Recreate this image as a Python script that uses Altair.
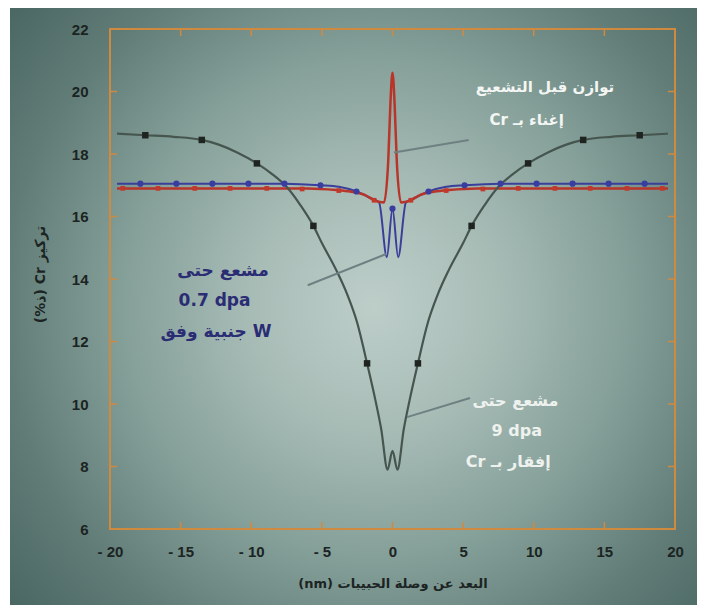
import altair as alt
import pandas as pd

# ---------------- data ----------------
# 9 dpa profile (grey line, black squares)
gray_x = [-19.5, -17.5, -15.5, -13.5, -12.3, -11.0, -9.6, -8.5, -7.5, -6.5, -5.6, -5.0, -4.0, -3.2, -2.5, -1.8, -1.2, -0.8, -0.35, 0.0,
          0.35, 0.8, 1.2, 1.8, 2.5, 3.2, 4.0, 5.0, 5.6, 6.5, 7.5, 8.5, 9.6, 11.0, 12.3, 13.5, 15.5, 17.5, 19.5]
gray_v = [18.65, 18.6, 18.55, 18.45, 18.3, 18.05, 17.7, 17.35, 16.95, 16.35, 15.7, 15.15, 14.3, 13.5, 12.6, 11.3, 10.1, 9.2, 7.9, 8.5,
          7.9, 9.2, 10.1, 11.3, 12.6, 13.5, 14.3, 15.15, 15.7, 16.35, 16.95, 17.35, 17.7, 18.05, 18.3, 18.45, 18.55, 18.6, 18.65]
gray_mx = [-17.5, -13.5, -9.6, -5.6, -1.8, 1.8, 5.6, 9.6, 13.5, 17.5]
gray_mv = [18.6, 18.45, 17.7, 15.7, 11.3, 11.3, 15.7, 17.7, 18.45, 18.6]

# 0.7 dpa profile (blue, circles)
blue_x = [-19.5, -17.85, -15.3, -12.75, -10.2, -7.65, -5.1, -3.8, -2.55, -1.6, -0.95, -0.4, 0.0,
          0.4, 0.95, 1.6, 2.55, 3.8, 5.1, 7.65, 10.2, 12.75, 15.3, 17.85, 19.5]
blue_v = [17.05, 17.05, 17.05, 17.05, 17.05, 17.05, 17.0, 16.95, 16.8, 16.6, 16.45, 14.7, 16.25,
          14.7, 16.45, 16.6, 16.8, 16.95, 17.0, 17.05, 17.05, 17.05, 17.05, 17.05, 17.05]
blue_mx = [-17.85, -15.3, -12.75, -10.2, -7.65, -5.1, -2.55, 0.0, 2.55, 5.1, 7.65, 10.2, 12.75, 15.3, 17.85]
blue_mv = [17.05, 17.05, 17.05, 17.05, 17.05, 17.0, 16.8, 16.25, 16.8, 17.0, 17.05, 17.05, 17.05, 17.05, 17.05]

# before irradiation (red, small squares)
red_x = [-19.5, -15.0, -10.0, -6.0, -4.0, -3.0, -2.0, -1.2, -0.6, -0.3, -0.15, 0.0,
         0.15, 0.3, 0.6, 1.2, 2.0, 3.0, 4.0, 6.0, 10.0, 15.0, 19.5]
red_v = [16.9, 16.9, 16.9, 16.9, 16.85, 16.8, 16.7, 16.5, 16.45, 17.8, 19.6, 20.6,
         19.6, 17.8, 16.45, 16.5, 16.7, 16.8, 16.85, 16.9, 16.9, 16.9, 16.9]
red_mx = [-19.1, -16.6, -14.0, -11.5, -8.9, -6.4, -3.8, -1.3, 1.3, 3.8, 6.4, 8.9, 11.5, 14.0, 16.6, 19.1]
red_mv = [16.9, 16.9, 16.9, 16.9, 16.9, 16.88, 16.83, 16.52, 16.52, 16.83, 16.88, 16.9, 16.9, 16.9, 16.9, 16.9]

x_ticks = [-20, -15, -10, -5, 0, 5, 10, 15, 20]
y_ticks = [6, 8, 10, 12, 14, 16, 18, 20, 22]

# annotations
ptr_x = [0.1, -6.0, 1.03]
ptr_v = [18.05, 13.8, 9.58]
ptr_x2 = [5.4, -0.45, 5.49]
ptr_v2 = [18.45, 14.8, 10.19]

white1_text = ["توازن قبل التشعيع", "Cr إغناء بـ"]
white1_x = [10.8, 9.5]
white1_v = [20.15, 19.1]

navy_text = ["مشعع حتى", "0.7 dpa", "جنبية وفق W"]
navy_x = [-12.0, -12.6, -12.5]
navy_v = [14.25, 13.3, 12.3]

white2_text = ["مشعع حتى", "9 dpa", "Cr إفقار بـ"]
white2_x = [8.7, 8.8, 8.2]
white2_v = [10.1, 9.15, 8.15]

# ---------------- chart ----------------
W, H = 565, 500
ORANGE = "#d08a40"
AX_COL = "#1b2422"

x_enc = alt.X("x:Q", scale=alt.Scale(domain=[-20, 20], nice=False, zero=False),
              axis=alt.Axis(values=x_ticks, labelExpr="datum.value < 0 ? '- ' + abs(datum.value) : datum.label",
                            domain=False, ticks=False, grid=False, labelFlush=False, labelOverlap=False,
                            labelFont="Liberation Sans", labelFontWeight="bold", labelFontSize=15,
                            labelColor=AX_COL, labelPadding=15,
                            title="(nm) البعد عن وصلة الحبيبات", titleFont="DejaVu Sans",
                            titleFontSize=13, titleFontWeight="bold", titleColor=AX_COL,
                            titleY=54, titleBaseline="middle", zindex=1))
y_enc = alt.Y("v:Q", scale=alt.Scale(domain=[6, 22], nice=False, zero=False),
              axis=alt.Axis(values=y_ticks, domain=False, ticks=False, grid=False, labelOverlap=False,
                            labelFont="Liberation Sans", labelFontWeight="bold", labelFontSize=15,
                            labelColor=AX_COL, labelPadding=22,
                            title="(%ذ) Cr تركيز", titleFont="DejaVu Sans", titleFontSize=14,
                            titleFontWeight="bold", titleColor=AX_COL, titleAngle=270,
                            titleX=-70, titleY=245, titleAlign="center", titleBaseline="middle", zindex=1))

one = pd.DataFrame({"a": [0]})
gradient = {
    "gradient": "radial", "x1": 0.53, "y1": 0.5, "r1": 0.0, "x2": 0.53, "y2": 0.5, "r2": 0.72,
    "stops": [
        {"offset": 0.0, "color": "#bdcec9"},
        {"offset": 0.25, "color": "#a8bcb6"},
        {"offset": 0.5, "color": "#86a09a"},
        {"offset": 0.75, "color": "#617c77"},
        {"offset": 1.0, "color": "#45625e"},
    ],
}
bg = alt.Chart(one).mark_rect(fill=gradient).encode(
    x=alt.value(-100), x2=alt.value(W + 22), y=alt.value(-21), y2=alt.value(H + 76))

frame = alt.Chart(one).mark_rect(fillOpacity=0, stroke=ORANGE, strokeWidth=2).encode(
    x=alt.value(0), x2=alt.value(W), y=alt.value(0), y2=alt.value(H))

ydf = pd.DataFrame({"v": y_ticks})
xdf = pd.DataFrame({"x": x_ticks})
tick_style = dict(color=ORANGE, strokeWidth=1.5)
yt_l = alt.Chart(ydf).mark_rule(**tick_style).encode(y=y_enc, x=alt.value(0), x2=alt.value(7))
yt_r = alt.Chart(ydf).mark_rule(**tick_style).encode(y=y_enc, x=alt.value(W - 7), x2=alt.value(W))
xt_b = alt.Chart(xdf).mark_rule(**tick_style).encode(x=x_enc, y=alt.value(H - 7), y2=alt.value(H))
xt_t = alt.Chart(xdf).mark_rule(**tick_style).encode(x=x_enc, y=alt.value(0), y2=alt.value(7))

blue_df = pd.DataFrame({"x": blue_x, "v": blue_v})
red_df = pd.DataFrame({"x": red_x, "v": red_v})
gray_df = pd.DataFrame({"x": gray_x, "v": gray_v})

blue_line = alt.Chart(blue_df).mark_line(color="#3a3f9a", strokeWidth=2, interpolate="monotone").encode(x=x_enc, y=y_enc)
red_line = alt.Chart(red_df).mark_line(color="#b8352a", strokeWidth=2.5, interpolate="monotone").encode(x=x_enc, y=y_enc)
gray_line = alt.Chart(gray_df).mark_line(color="#46564f", strokeWidth=2.2, interpolate="monotone").encode(x=x_enc, y=y_enc)

red_pts = alt.Chart(pd.DataFrame({"x": red_mx, "v": red_mv})).mark_square(size=22, color="#c0392b", opacity=1).encode(x=x_enc, y=y_enc)
blue_pts = alt.Chart(pd.DataFrame({"x": blue_mx, "v": blue_mv})).mark_circle(size=38, color="#3a3da0", opacity=1).encode(x=x_enc, y=y_enc)
gray_pts = alt.Chart(pd.DataFrame({"x": gray_mx, "v": gray_mv})).mark_square(size=42, color="#1f2420", opacity=1).encode(x=x_enc, y=y_enc)

ptr_df = pd.DataFrame({"x": ptr_x, "v": ptr_v, "x2": ptr_x2, "v2": ptr_v2})
pointers = alt.Chart(ptr_df).mark_rule(color="#6f8082", strokeWidth=2).encode(
    x=x_enc, y=y_enc, x2="x2:Q", y2="v2:Q")

def texts(labels, xs, vs, color, size):
    df = pd.DataFrame({"x": xs, "v": vs, "t": labels})
    return alt.Chart(df).mark_text(font="DejaVu Sans", fontWeight="bold", fontSize=size, color=color,
                                   align="center", baseline="middle").encode(x=x_enc, y=y_enc, text="t:N")

t1 = texts(white1_text, white1_x, white1_v, "#f4f6f4", 15)
t2 = texts(navy_text, navy_x, navy_v, "#2a2c74", 17)
t3 = texts(white2_text, white2_x, white2_v, "#eef2ee", 16)

chart = alt.layer(
    bg, yt_l, yt_r, xt_b, xt_t,
    blue_line, red_line, gray_line,
    red_pts, blue_pts, gray_pts,
    pointers, frame, t1, t2, t3,
).properties(
    width=W, height=H,
    autosize=alt.AutoSizeParams(type="none"),
    padding={"left": 102, "top": 21, "right": 22, "bottom": 76},
    background="white",
).configure_view(stroke="transparent")

chart.save("out.html", embed_options={"renderer": "svg", "actions": False})
